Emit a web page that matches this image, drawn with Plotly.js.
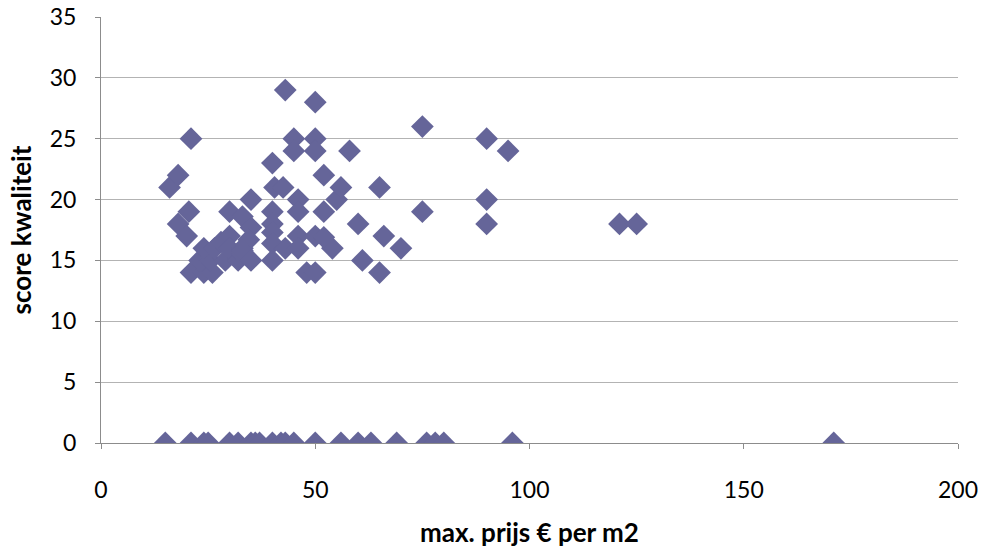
<!DOCTYPE html>
<html>
<head>
<meta charset="utf-8">
<script src="https://cdn.plot.ly/plotly-3.0.1.min.js"></script>
<style>
  html, body { margin: 0; padding: 0; background: #ffffff; }
  #chart { width: 986px; height: 558px; }
</style>
</head>
<body>
<div id="chart"></div>
<script>
// Maximum price per m2 (euro) for each location
const prijs = [
  16, 18, 21, 18, 20.5, 20, 21, 24, 26, 23, 25.5, 29, 24, 26.5, 28,
  30, 30, 30, 32, 33, 33, 35, 33, 35, 34.5, 33, 35,
  40, 40.5, 42.5, 40, 40, 40, 40, 40, 43, 43, 45, 45, 46, 46, 46, 46, 48,
  50, 50, 50, 50, 52, 55, 56, 52, 54, 52, 58, 60, 61, 65, 66, 65, 70,
  75, 75, 90, 90, 90, 95, 121, 125, 50,
  15, 21, 24, 25, 30, 32, 35, 36, 37, 40, 42, 43, 45, 50, 56, 60, 63, 69, 76, 78, 80, 96, 171
];

// Quality score for each location
const kwaliteit = [
  21, 22, 25, 18, 19, 17, 14, 14, 14, 15, 15, 15, 16, 16, 16.5,
  19, 17, 16, 15, 15.5, 16, 20, 18.6, 17.7, 16.7, 15.8, 15,
  23, 21, 21, 19, 18, 17.3, 16.4, 15, 16, 29, 25, 24, 20, 19, 17, 16, 14,
  28, 25, 24, 17, 22, 20, 21, 19, 16, 16.9, 24, 18, 15, 21, 17, 14, 16,
  26, 19, 25, 20, 18, 24, 18, 18, 14,
  0, 0, 0, 0, 0, 0, 0, 0, 0, 0, 0, 0, 0, 0, 0, 0, 0, 0, 0, 0, 0, 0, 0
];

const xTicks = [0, 50, 100, 150, 200];
const yTicks = [0, 5, 10, 15, 20, 25, 30, 35];

const trace = {
  type: 'scatter',
  mode: 'markers',
  x: prijs,
  y: kwaliteit,
  marker: {
    symbol: 'diamond',
    size: 17.5,
    color: 'rgb(101,101,153)',
    line: { width: 0 }
  },
  hoverinfo: 'x+y'
};

const font = "Lato, 'Open Sans', 'DejaVu Sans', sans-serif";

const layout = {
  width: 986,
  height: 558,
  margin: { l: 101, r: 28, t: 17, b: 115 },
  paper_bgcolor: '#ffffff',
  plot_bgcolor: '#ffffff',
  showlegend: false,
  font: { family: font, color: '#000000', size: 23 },
  xaxis: {
    range: [0, 200],
    tickvals: xTicks,
    ticktext: xTicks.map(String),
    showgrid: false,
    zeroline: false,
    showline: true,
    linecolor: '#8c8c8c',
    linewidth: 1,
    ticks: 'outside',
    ticklen: 5,
    tickcolor: '#8c8c8c',
    ticklabelstandoff: 21,
    tickfont: { family: font, size: 23, color: '#000000' },
    automargin: false,
    title: {
      text: '<b>max. prijs € per m2</b>',
      font: { family: font, size: 26, color: '#000000' },
      standoff: 22
    }
  },
  yaxis: {
    range: [0, 35],
    tickvals: yTicks,
    ticktext: yTicks.map(String),
    showgrid: true,
    gridcolor: '#b3b3b3',
    gridwidth: 1,
    zeroline: false,
    showline: true,
    linecolor: '#8c8c8c',
    linewidth: 1,
    ticks: 'outside',
    ticklen: 5,
    tickcolor: '#8c8c8c',
    ticklabelstandoff: 14,
    tickfont: { family: font, size: 23, color: '#000000' },
    automargin: false,
    title: {
      text: '<b>score kwaliteit</b>',
      font: { family: font, size: 26, color: '#000000' },
      standoff: 10
    }
  }
};

Plotly.newPlot('chart', [trace], layout, { displayModeBar: false, staticPlot: true });
</script>
</body>
</html>
